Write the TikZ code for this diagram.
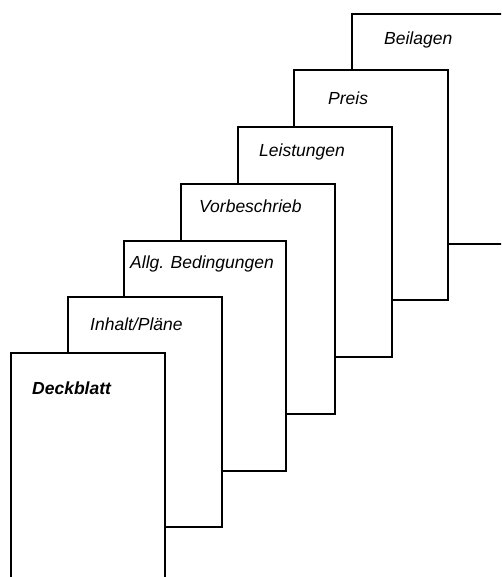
\documentclass[tikz,border=0pt]{standalone}
\usepackage{fontspec}
\setmainfont{Liberation Sans}
\usetikzlibrary{positioning}

\begin{document}
\begin{tikzpicture}[x = 1pt, y = -1pt,
    page/.style = {draw, fill = white, line width = 2pt, inner sep = 0pt,
        minimum width = 154pt, minimum height = 230pt, anchor = north west},
    title/.style = {anchor = west, inner sep = 0pt,
        font = \fontsize{17.5}{20}\selectfont\itshape}]
    \clip (0, 0) rectangle (501, 577);

    % pages, back to front
    \node[page](beilagen) at (351, 13) {};
    \node[page](preis) at (293, 69) {};
    \node[page](leistungen) at (237, 126) {};
    \node[page](vorbeschrieb) at (180, 183) {};
    \node[page, minimum width = 162pt](allg) at (123, 240) {};
    \node[page](inhalt) at (67, 296) {};
    \node[page](deckblatt) at (10, 352) {};

    % titles
    \node[title](tbeilagen) at ([xshift = 33pt, yshift = -27pt]beilagen.north west) {Beilagen};
    \node[title](tpreis) at ([xshift = 35pt, yshift = -29pt]preis.north west) {Preis};
    \node[title](tleistungen) at ([xshift = 22pt, yshift = -26pt]leistungen.north west) {Leistungen};
    \node[title](tvorbeschrieb) at ([xshift = 19pt, yshift = -23pt]vorbeschrieb.north west) {Vorbeschrieb};
    \node[title](tallg) at ([xshift = 7pt, yshift = -24pt]allg.north west) {Allg. Bedingungen};
    \node[title](tinhalt) at ([xshift = 23pt, yshift = -28pt]inhalt.north west) {Inhalt/Pläne};
    \node[title, font = \fontsize{17.5}{20}\selectfont\bfseries\itshape](tdeckblatt) at ([xshift = 22pt, yshift = -36pt]deckblatt.north west) {Deckblatt};
\end{tikzpicture}
\end{document}
